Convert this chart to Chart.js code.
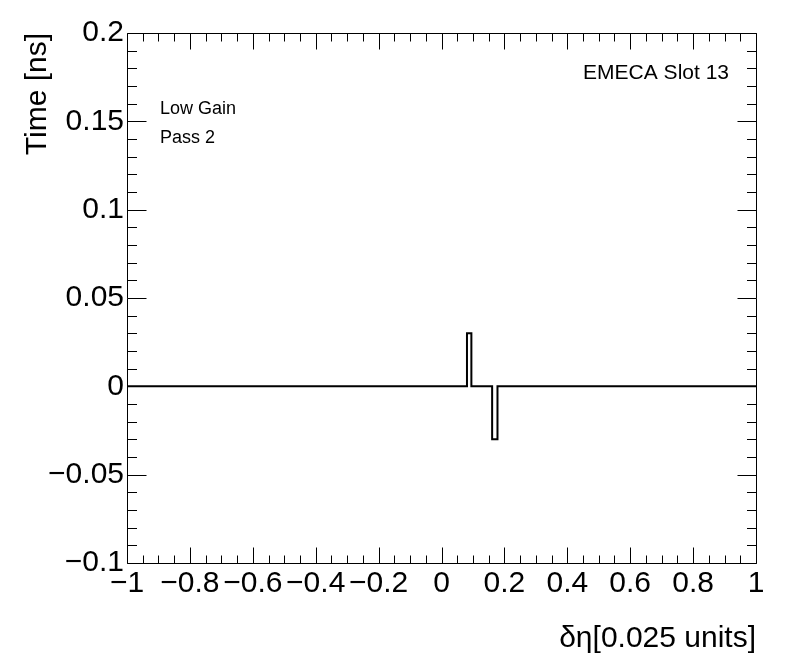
<!DOCTYPE html>
<html><head><meta charset="utf-8">
<script src="https://cdn.jsdelivr.net/npm/chart.js@4/dist/chart.umd.min.js"></script>
<style>html,body{margin:0;padding:0;background:#fff;} #wrap{width:796px;height:672px;position:relative;}</style>
</head><body><div id="wrap"><canvas id="c" width="796" height="672"></canvas></div>
<script>
// ---- data ----
const binEdges = [-1, 0.081, 0.095, 0.161, 0.178, 1];
const binValues = [0, 0.03, 0, -0.03, 0];
const xTickValues = [-1, -0.8, -0.6, -0.4, -0.2, 0, 0.2, 0.4, 0.6, 0.8, 1];
const yTickValues = [-0.1, -0.05, 0, 0.05, 0.1, 0.15, 0.2];
const xTitle = 'δη[0.025 units]';
const yTitle = 'Time [ns]';
const labelTopRight = 'EMECA Slot 13';
const labelLines = ['Low Gain', 'Pass 2'];

// ---- build ----
const FONT = "'Liberation Sans', Arial, Helvetica, sans-serif";
Chart.defaults.font.family = FONT;
Chart.defaults.color = '#000';

const points = binEdges.map((e, i) => ({ x: e, y: binValues[Math.min(i, binValues.length - 1)] }));
const fmt = v => (v < 0 ? '\u2212' : '') + String(Math.abs(v));

const rootFrame = {
  id: 'rootFrame',
  afterDatasetsDraw(chart) {
    const { ctx, chartArea: a, scales: { x, y } } = chart;
    ctx.save();
    ctx.strokeStyle = '#000';
    ctx.lineWidth = 1;
    const L = Math.round(a.left) + 0.5, R = Math.round(a.right) + 0.5;
    const T = Math.round(a.top) + 0.5, B = Math.round(a.bottom) + 0.5;
    ctx.beginPath();
    ctx.rect(L, T, R - L, B - T);
    const xt = (v, len) => {
      const p = Math.round(x.getPixelForValue(v)) + 0.5;
      ctx.moveTo(p, B); ctx.lineTo(p, B - len);
      ctx.moveTo(p, T); ctx.lineTo(p, T + len);
    };
    const yt = (v, len) => {
      const p = Math.round(y.getPixelForValue(v)) + 0.5;
      ctx.moveTo(L, p); ctx.lineTo(L + len, p);
      ctx.moveTo(R, p); ctx.lineTo(R - len, p);
    };
    const XSUB = 4, YSUB = 5;
    xTickValues.forEach((v, i) => {
      xt(v, 16);
      if (i < xTickValues.length - 1) {
        const n = xTickValues[i + 1];
        for (let k = 1; k < XSUB; k++) xt(v + (n - v) * k / XSUB, 8);
      }
    });
    yTickValues.forEach((v, i) => {
      yt(v, 19);
      if (i < yTickValues.length - 1) {
        const n = yTickValues[i + 1];
        for (let k = 1; k < YSUB; k++) yt(v + (n - v) * k / YSUB, 9.5);
      }
    });
    ctx.stroke();

    ctx.fillStyle = '#000';
    ctx.textBaseline = 'alphabetic';
    ctx.font = '21px ' + FONT;
    ctx.textAlign = 'right';
    ctx.fillText(labelTopRight, 729, 79);
    ctx.font = '18px ' + FONT;
    ctx.textAlign = 'left';
    labelLines.forEach((t, i) => ctx.fillText(t, 160, 114 + i * 29));
    ctx.restore();
  }
};

new Chart(document.getElementById('c'), {
  type: 'line',
  data: {
    datasets: [{
      data: points,
      stepped: true,
      borderColor: '#000',
      borderWidth: 2,
      pointRadius: 0,
      fill: false,
      tension: 0
    }]
  },
  options: {
    responsive: false,
    animation: false,
    devicePixelRatio: 1,
    layout: { padding: { top: 33, right: 40, left: 0, bottom: 0 } },
    plugins: { legend: { display: false }, tooltip: { enabled: false } },
    scales: {
      x: {
        type: 'linear', min: -1, max: 1,
        afterBuildTicks: s => { s.ticks = xTickValues.map(v => ({ value: v })); },
        afterFit: s => { s.height = 109; },
        grid: { display: false, drawTicks: false },
        border: { display: false },
        ticks: { font: { size: 30 }, color: '#000', padding: 3, maxRotation: 0, minRotation: 0, autoSkip: false, callback: v => fmt(v) },
        title: { display: true, text: xTitle, align: 'end', color: '#000', font: { size: 30 }, padding: { top: 0, bottom: 15 } }
      },
      y: {
        type: 'linear', min: -0.1, max: 0.2,
        afterBuildTicks: s => { s.ticks = yTickValues.map(v => ({ value: v })); },
        afterFit: s => { s.width = 127; },
        grid: { display: false, drawTicks: false },
        border: { display: false },
        ticks: { font: { size: 30 }, color: '#000', padding: 3, autoSkip: false, callback: v => fmt(v) },
        title: { display: true, text: yTitle, align: 'end', color: '#000', font: { size: 30 }, padding: { top: 20, bottom: 0 } }
      }
    }
  },
  plugins: [rootFrame]
});
</script></body></html>
